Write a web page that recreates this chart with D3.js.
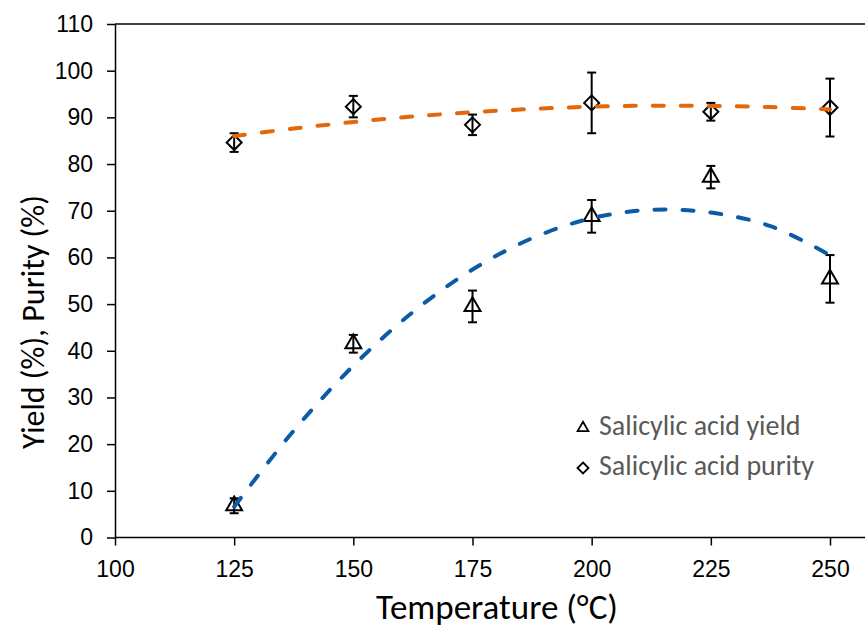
<!DOCTYPE html>
<html>
<head>
<meta charset="utf-8">
<script src="https://cdn.jsdelivr.net/npm/d3@7"></script>
<style>
  html, body { margin: 0; padding: 0; background: #fff; }
  svg { display: block; font-family: Carlito, Calibri, Lato, sans-serif; }
</style>
</head>
<body>
<div id="chart"></div>
<script>
// measured points (x = temperature in °C)
const temps = [125, 150, 175, 200, 225, 250];
const yieldVals = [6.8, 41.5, 49.5, 68.8, 77.2, 55.4];
const yieldErr = [1.6, 1.9, 3.4, 3.5, 2.4, 5.1];
const purityVals = [84.6, 92.3, 88.4, 93.1, 91.2, 92.1];
const purityErr = [2.0, 2.3, 2.2, 6.5, 1.9, 6.2];

// dashed trend lines
const trendX = [125, 137.5, 150, 162.5, 175, 187.5, 200, 212.5, 225, 237.5, 250];
const yieldTrend = [6.6, 22.9, 36.8, 48.3, 57.4, 64.1, 68.4, 70.2, 69.6, 66.7, 60.5];
const purityTrend = [86.0, 87.6, 89.0, 90.2, 91.1, 91.8, 92.3, 92.5, 92.45, 92.2, 91.7];

const xTicks = [100, 125, 150, 175, 200, 225, 250];
const yTicks = [0, 10, 20, 30, 40, 50, 60, 70, 80, 90, 100, 110];
const legendLabels = ['Salicylic acid yield', 'Salicylic acid purity'];

const W = 865, H = 629;
const plotLeft = 115, plotRight = 865, plotTop = 24, plotBottom = 537.5;

const svg = d3.select('#chart').append('svg')
    .attr('width', W)
    .attr('height', H);

// x axis runs past 250 to the right edge of the picture
const x = d3.scaleLinear().domain([100, 250]).range([plotLeft, 830]);
const y = d3.scaleLinear().domain([0, 110]).range([plotBottom, plotTop]);

// axes
const xAxis = svg.append('g')
    .attr('transform', `translate(0,${plotBottom})`)
    .call(d3.axisBottom(x).tickValues(xTicks).tickSize(8).tickSizeOuter(0).tickPadding(10));
xAxis.select('.domain').attr('d', `M${plotLeft},0H${plotRight}`);

const yAxis = svg.append('g')
    .attr('transform', `translate(${plotLeft},0)`)
    .call(d3.axisLeft(y).tickValues(yTicks).tickSize(8).tickSizeOuter(0).tickPadding(14));

svg.selectAll('.domain, .tick line')
    .attr('stroke', '#000')
    .attr('stroke-width', 1.5);
svg.selectAll('.tick text')
    .attr('fill', '#000')
    .style('font-size', '23px');
xAxis.selectAll('.tick text').attr('dy', '0.95em');

// top border of plot area
svg.append('line')
    .attr('x1', plotLeft).attr('x2', plotRight)
    .attr('y1', y(110)).attr('y2', y(110))
    .attr('stroke', '#000').attr('stroke-width', 1.5);

// axis titles
svg.append('text')
    .attr('x', 497)
    .attr('y', 619)
    .attr('text-anchor', 'middle')
    .attr('fill', '#000')
    .style('font-size', '35px')
    .text('Temperature (°C)');

svg.append('text')
    .attr('transform', 'translate(44, 322) rotate(-90)')
    .attr('text-anchor', 'middle')
    .attr('fill', '#000')
    .style('font-size', '32px')
    .text('Yield (%), Purity (%)');

const triangle = d3.symbol().type(d3.symbolTriangle);
const diamond = s => `M0,${-s}L${s},0L0,${s}L${-s},0Z`;

// error bars
function errorBars(vals, errs) {
    const g = svg.append('g').attr('stroke', '#000').attr('stroke-width', 2);
    temps.forEach((t, i) => {
        const cx = x(t), y0 = y(vals[i] - errs[i]), y1 = y(vals[i] + errs[i]);
        g.append('line').attr('x1', cx).attr('x2', cx).attr('y1', y0).attr('y2', y1);
        g.append('line').attr('x1', cx - 4.5).attr('x2', cx + 4.5).attr('y1', y0).attr('y2', y0);
        g.append('line').attr('x1', cx - 4.5).attr('x2', cx + 4.5).attr('y1', y1).attr('y2', y1);
    });
}
errorBars(yieldVals, yieldErr);
errorBars(purityVals, purityErr);

// markers
svg.append('g').selectAll('path')
    .data(temps.map((t, i) => [t, yieldVals[i]]))
    .join('path')
    .attr('transform', d => `translate(${x(d[0])},${y(d[1])})`)
    .attr('d', triangle.size(110))
    .attr('fill', 'none')
    .attr('stroke', '#000')
    .attr('stroke-width', 2);

svg.append('g').selectAll('path')
    .data(temps.map((t, i) => [t, purityVals[i]]))
    .join('path')
    .attr('transform', d => `translate(${x(d[0])},${y(d[1])})`)
    .attr('d', diamond(7.5))
    .attr('fill', 'none')
    .attr('stroke', '#000')
    .attr('stroke-width', 2);

// trend lines
const line = d3.line()
    .x(d => x(d[0]))
    .y(d => y(d[1]))
    .curve(d3.curveCatmullRom);

svg.append('path')
    .datum(trendX.map((t, i) => [t, yieldTrend[i]]))
    .attr('d', line)
    .attr('fill', 'none')
    .attr('stroke', '#0B5BA6')
    .attr('stroke-width', 4)
    .attr('stroke-linecap', 'round')
    .attr('stroke-dasharray', '11,17');

svg.append('path')
    .datum(trendX.map((t, i) => [t, purityTrend[i]]))
    .attr('d', line)
    .attr('fill', 'none')
    .attr('stroke', '#E3680C')
    .attr('stroke-width', 4)
    .attr('stroke-linecap', 'round')
    .attr('stroke-dasharray', '11,17');

// legend
const legend = svg.append('g').attr('transform', 'translate(583,428)');
legendLabels.forEach((lab, i) => {
    const g = legend.append('g').attr('transform', `translate(0,${i * 40})`);
    g.append('path')
        .attr('d', i === 0 ? triangle.size(50)() : diamond(5.5))
        .attr('fill', 'none')
        .attr('stroke', '#000')
        .attr('stroke-width', 1.8);
    g.append('text')
        .attr('x', 16)
        .attr('y', 7)
        .attr('fill', '#595959')
        .style('font-size', '28px')
        .text(lab);
});
</script>
</body>
</html>
